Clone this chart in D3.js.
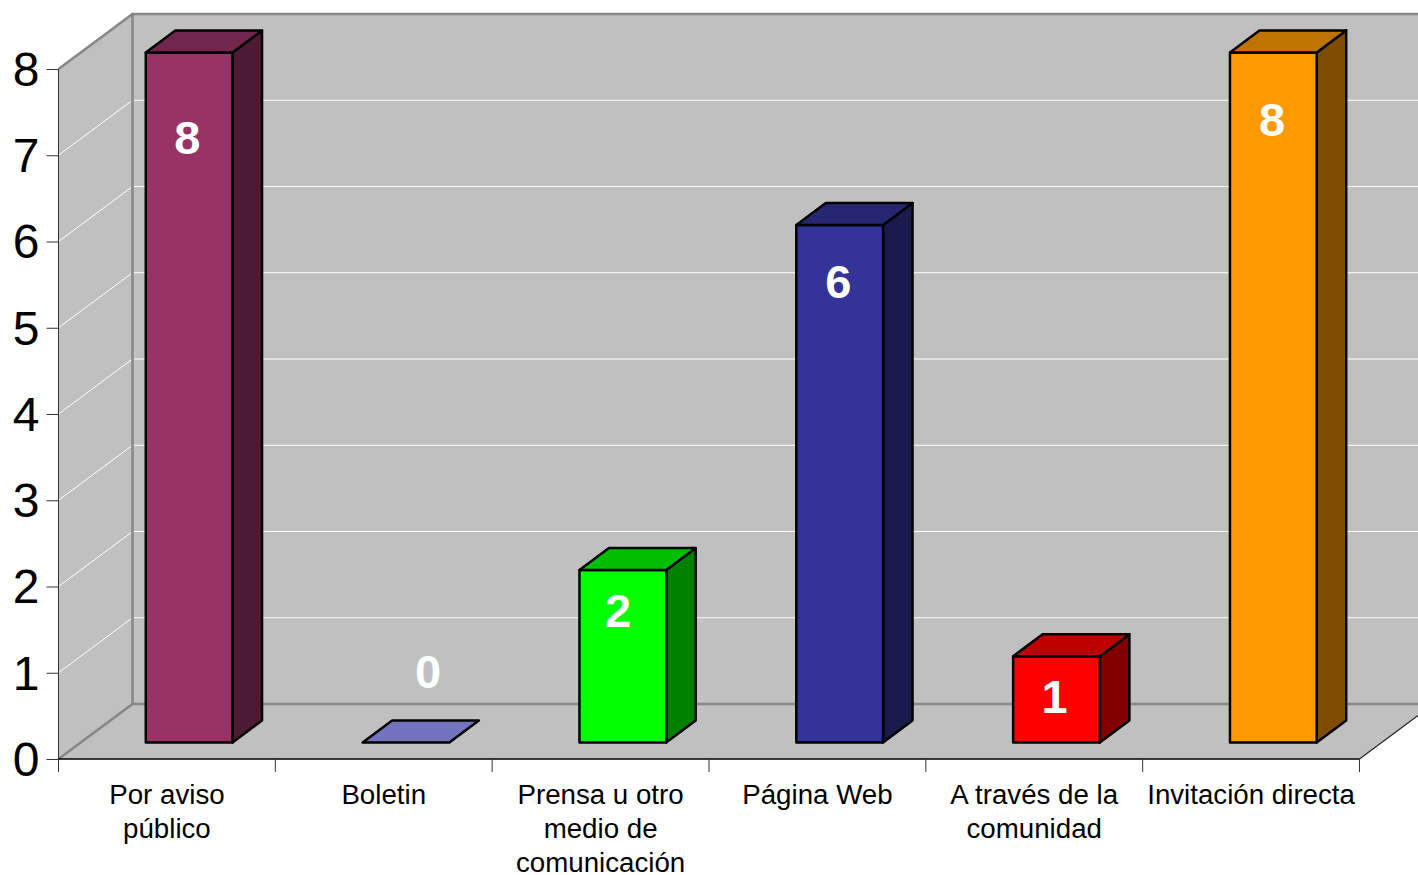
<!DOCTYPE html>
<html>
<head>
<meta charset="utf-8">
<script src="https://cdn.jsdelivr.net/npm/d3@7"></script>
<style>
html, body { margin: 0; padding: 0; background: #fff; overflow: hidden; }
text { font-family: "Liberation Sans", Arial, sans-serif; }
</style>
</head>
<body>
<div id="visual"></div>
<script>
//data
const categories = ["Por aviso público", "Boletin", "Prensa u otro medio de comunicación", "Página Web", "A través de la comunidad", "Invitación directa"];
const values = [8, 0, 2, 6, 1, 8];
const barColors = ["#993366", "#7373bd", "#00ff00", "#333399", "#ff0000", "#ff9900"];
const yTicks = [0, 1, 2, 3, 4, 5, 6, 7, 8];
const categoryLines = [["Por aviso", "público"], ["Boletin"], ["Prensa u otro", "medio de", "comunicación"], ["Página Web"], ["A través de la", "comunidad"], ["Invitación directa"]];

//constants
const width = 1418;
const height = 875;
const left = 58.5, right = 1359.5, bottom = 759, top8 = 69;
const depthX = 74, depthY = 55;       // floor / wall depth
const barDepthX = 29.5, barDepthY = 22;
// the data labels were placed by hand in the original chart, so they are nudged from the bar
const labelNudge = [[41.5, 85], [65.5, -71], [38.5, 40.5], [42, 56.5], [41.5, 40.5], [42, 66.5]];

const svg = d3.select("#visual")
	.append("svg")
	.attr("width", width)
	.attr("height", height)
	.style("display", "block");

const x = d3.scaleBand().domain(categories).range([left, right]).padding(0.6).paddingOuter(0.3);
const xTicks = d3.scaleBand().domain(categories).range([left, right]);
const y = d3.scaleLinear().domain([0, 8]).range([bottom, top8]);

//walls and floor
const poly = pts => pts.map(p => p.join(",")).join(" ");
svg.append("polygon")
	.attr("points", poly([[left + depthX, y(8) - depthY], [right + depthX, y(8) - depthY], [right + depthX, bottom - depthY], [left + depthX, bottom - depthY]]))
	.attr("fill", "#c0c0c0");
svg.append("polygon")
	.attr("points", poly([[left, y(8)], [left + depthX, y(8) - depthY], [left + depthX, bottom - depthY], [left, bottom]]))
	.attr("fill", "#c0c0c0");
svg.append("polygon")
	.attr("points", poly([[left, bottom], [left + depthX, bottom - depthY], [right + depthX, bottom - depthY], [right, bottom]]))
	.attr("fill", "#c0c0c0");

//gridlines
svg.selectAll("polyline.grid")
	.data(yTicks.filter(d => d > 0 && d < 8))
	.enter()
	.append("polyline")
	.attr("class", "grid")
	.attr("fill", "none")
	.attr("stroke", "#fff")
	.attr("stroke-width", 1)
	.attr("points", d => poly([[left, y(d)], [left + depthX, y(d) - depthY], [right + depthX, y(d) - depthY]]));

//wall borders
svg.append("polyline")
	.attr("fill", "none")
	.attr("stroke", "#868686")
	.attr("stroke-width", 2.5)
	.attr("points", poly([[left, y(8)], [left + depthX, y(8) - depthY], [right + depthX, y(8) - depthY]]));
svg.append("polyline")
	.attr("fill", "none")
	.attr("stroke", "#868686")
	.attr("stroke-width", 2.5)
	.attr("points", poly([[left + depthX, y(8) - depthY], [left + depthX, bottom - depthY], [right + depthX, bottom - depthY]]));
svg.append("line")
	.attr("x1", left).attr("y1", bottom)
	.attr("x2", left + depthX).attr("y2", bottom - depthY)
	.attr("stroke", "#868686")
	.attr("stroke-width", 2.5);
svg.append("line")
	.attr("x1", right).attr("y1", bottom)
	.attr("x2", right + depthX).attr("y2", bottom - depthY)
	.attr("stroke", "#222")
	.attr("stroke-width", 1.2);

//axes
const yAxis = svg.append("g")
	.attr("transform", "translate(" + left + ",0)")
	.call(d3.axisLeft(y).tickValues(yTicks).tickFormat(d3.format("d")).tickSize(12).tickPadding(7));
yAxis.selectAll("text").attr("font-size", 48).attr("fill", "#000").attr("dy", "0.34em").style("font-family", '"Liberation Sans", Arial, sans-serif');
yAxis.selectAll("line, path").attr("stroke", "#333");
yAxis.select("path").attr("d", "M0," + y(8) + "V" + bottom);

const xAxis = svg.append("g")
	.attr("transform", "translate(0," + bottom + ")")
	.call(d3.axisBottom(xTicks).tickSize(0).tickFormat(""));
xAxis.select("path").attr("d", "M" + left + ",0H" + right).attr("stroke", "#000").attr("stroke-width", 1.4);
xAxis.selectAll(".tick").remove();
svg.selectAll("line.xtick")
	.data(categories.map(c => xTicks(c)).concat([right]))
	.enter()
	.append("line")
	.attr("class", "xtick")
	.attr("x1", d => d).attr("x2", d => d)
	.attr("y1", bottom).attr("y2", bottom + 13)
	.attr("stroke", "#333");

const catLabels = svg.selectAll("text.cat")
	.data(categories)
	.enter()
	.append("text")
	.attr("class", "cat")
	.attr("text-anchor", "middle")
	.attr("font-size", 27.7)
	.attr("fill", "#000")
	.attr("y", 804);
catLabels.selectAll("tspan")
	.data((d, i) => categoryLines[i].map(line => ({line, cx: xTicks(d) + xTicks.bandwidth() / 2})))
	.enter()
	.append("tspan")
	.attr("x", d => d.cx)
	.attr("dy", (d, i) => i === 0 ? 0 : 34)
	.text(d => d.line);

//bars: offset into the floor so they sit in the middle of its depth
const shiftX = (depthX - barDepthX) / 2;
const shiftY = (depthY - barDepthY) / 2;
const bars = svg.selectAll("g.bar")
	.data(categories)
	.enter()
	.append("g")
	.attr("class", "bar")
	.attr("stroke", "#000")
	.attr("stroke-width", 2.5)
	.attr("stroke-linejoin", "round");

const shade = (c, k) => {
	const rgb = d3.rgb(c);
	return d3.rgb(rgb.r * k, rgb.g * k, rgb.b * k).formatHex();
};

bars.each(function(d, i) {
	const g = d3.select(this);
	const x0 = x(d) + shiftX;
	const x1 = x0 + x.bandwidth();
	const yb = y(0) - shiftY;
	const yt = y(values[i]) - shiftY;
	if (values[i] > 0) {
		g.append("polygon")
			.attr("points", poly([[x1, yb], [x1 + barDepthX, yb - barDepthY], [x1 + barDepthX, yt - barDepthY], [x1, yt]]))
			.attr("fill", shade(barColors[i], 0.5));
		g.append("rect")
			.attr("x", x0).attr("y", yt)
			.attr("width", x1 - x0).attr("height", yb - yt)
			.attr("fill", barColors[i]);
	}
	g.append("polygon")
		.attr("points", poly([[x0, yt], [x0 + barDepthX, yt - barDepthY], [x1 + barDepthX, yt - barDepthY], [x1, yt]]))
		.attr("fill", values[i] > 0 ? shade(barColors[i], 0.75) : barColors[i]);
});

//value labels
svg.selectAll("text.value")
	.data(values)
	.enter()
	.append("text")
	.attr("class", "value")
	.attr("text-anchor", "middle")
	.attr("dominant-baseline", "central")
	.attr("font-size", 47)
	.attr("font-weight", "bold")
	.attr("fill", "#fff")
	.attr("x", (d, i) => x(categories[i]) + shiftX + labelNudge[i][0])
	.attr("y", (d, i) => y(d) - shiftY + labelNudge[i][1])
	.text(d => d);
</script>
</body>
</html>
